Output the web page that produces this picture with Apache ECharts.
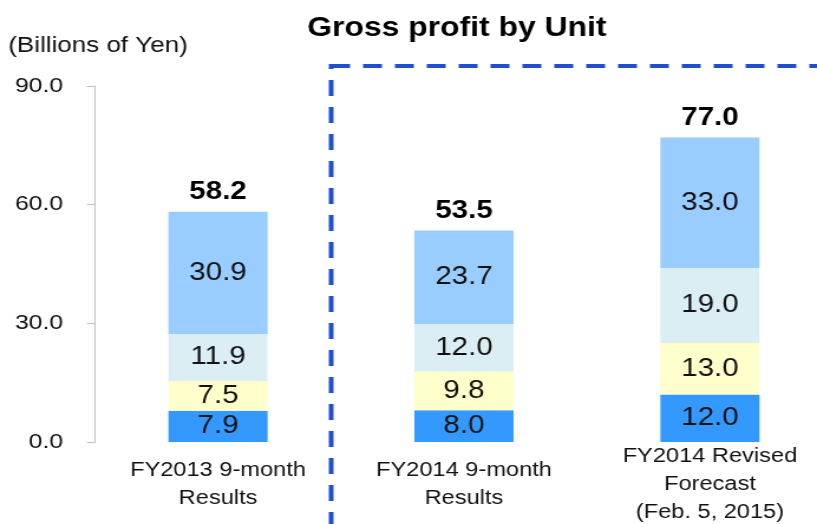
<!DOCTYPE html>
<html>
<head>
<meta charset="utf-8">
<script src="https://cdn.jsdelivr.net/npm/echarts@6/dist/echarts.min.js"></script>
<style>
  html, body { margin: 0; padding: 0; background: #fff; overflow: hidden; }
  /* the reference is stretched sideways, so the chart is drawn narrower and widened */
  #chart { width: 692px; height: 524px; transform: scaleX(1.1806); transform-origin: 0 0; }
</style>
</head>
<body>
<div id="chart"></div>
<script>
const categories = ['FY2013 9-month\nResults', 'FY2014 9-month\nResults', 'FY2014 Revised\nForecast\n(Feb. 5, 2015)'];
const unitA = [7.9, 8.0, 12.0];
const unitB = [7.5, 9.8, 13.0];
const unitC = [11.9, 12.0, 19.0];
const unitD = [30.9, 23.7, 33.0];
const totals = [58.2, 53.5, 77.0];

const chart = echarts.init(document.getElementById('chart'));
const font = '"Liberation Sans", Arial, sans-serif';

function part(name, data, color) {
  return {
    name: name,
    type: 'bar',
    stack: 'gp',
    data: data,
    barWidth: 84,
    itemStyle: { color: color },
    label: {
      show: true,
      position: 'inside',
      color: '#111',
      fontSize: 25,
      fontFamily: font,
      formatter: p => p.value.toFixed(1)
    }
  };
}

chart.setOption({
  animation: false,
  textStyle: { fontFamily: font },
  title: {
    text: 'Gross profit by Unit',
    left: 382,
    top: 10,
    textAlign: 'center',
    textStyle: { fontSize: 27, fontWeight: 'bold', color: '#000', fontFamily: font }
  },
  graphic: [
    {
      type: 'text',
      left: 7,
      top: 35,
      style: { text: '(Billions of Yen)', fontSize: 22, fill: '#111', fontFamily: font }
    },
    {
      type: 'rect',
      shape: { x: 280.5, y: 66, width: 460, height: 500 },
      style: { fill: 'none', stroke: '#1f4fd0', lineWidth: 4, lineDash: [16, 11] },
      z: 10
    }
  ],
  grid: { left: 80.5, top: 86, width: 625, height: 356, outerBoundsMode: 'none' },
  xAxis: {
    type: 'category',
    data: categories,
    axisLine: { show: false },
    axisTick: { show: false },
    axisLabel: {
      color: '#111', fontSize: 20, lineHeight: 28, margin: 42, interval: 0,
      verticalAlign: 'middle', fontFamily: font
    }
  },
  yAxis: {
    type: 'value',
    min: 0,
    max: 90,
    interval: 30,
    splitLine: { show: false },
    axisLine: { show: true, lineStyle: { color: '#bfbfbf' } },
    axisTick: { show: true, length: 7, lineStyle: { color: '#bfbfbf' } },
    axisLabel: {
      color: '#111', fontSize: 21, margin: 27, fontFamily: font,
      formatter: v => v.toFixed(1)
    }
  },
  series: [
    part('A', unitA, '#3399ff'),
    part('B', unitB, '#ffffcc'),
    part('C', unitC, '#daeef3'),
    part('D', unitD, '#99ccff'),
    {
      name: 'Total',
      type: 'bar',
      stack: 'gp',
      data: totals.map(() => 0),
      barWidth: 84,
      itemStyle: { color: 'transparent' },
      label: {
        show: true,
        position: 'top',
        distance: 7,
        color: '#000',
        fontSize: 25,
        fontWeight: 'bold',
        fontFamily: font,
        formatter: p => totals[p.dataIndex].toFixed(1)
      }
    }
  ]
});
</script>
</body>
</html>
